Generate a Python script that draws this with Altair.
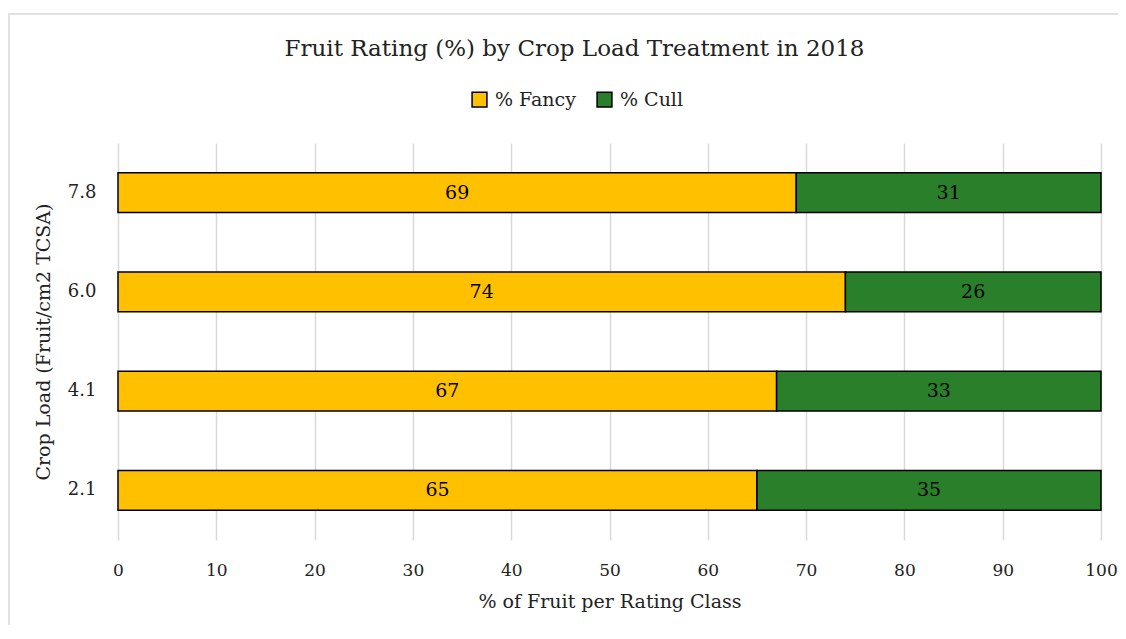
import altair as alt
import pandas as pd

loads = ["2.1", "4.1", "6.0", "7.8"]
fancy = [65, 67, 74, 69]
cull = [35, 33, 26, 31]
series = ["% Fancy", "% Cull"]
colors = ["#FFC000", "#2A7F2A"]

rows = []
for i, l in enumerate(loads):
    rows.append({"load": l, "rating": series[0], "value": fancy[i], "order": 0})
    rows.append({"load": l, "rating": series[1], "value": cull[i], "order": 1})
df = pd.DataFrame(rows)

FONT = "DejaVu Serif"
yorder = ["7.8", "6.0", "4.1", "2.1"]

base = alt.Chart(df)

bars = base.mark_bar(stroke="black", strokeWidth=1.5).encode(
    y=alt.Y("load:N", sort=yorder, title="Crop Load (Fruit/cm2 TCSA)",
            scale=alt.Scale(paddingInner=0.6, paddingOuter=0.3),
            axis=alt.Axis(labelPadding=22, titlePadding=14, domain=False, ticks=False,
                          grid=False, labelFontSize=18, titleFontSize=19)),
    x=alt.X("value:Q", stack="zero", title="% of Fruit per Rating Class",
            scale=alt.Scale(domain=[0, 100]),
            axis=alt.Axis(values=list(range(0, 101, 10)), domain=False, ticks=False,
                          grid=True, gridColor="#D9D9D9", gridWidth=1.5,
                          labelPadding=22, titlePadding=14, labelFlush=False,
                          labelFontSize=17, titleFontSize=19)),
    color=alt.Color("rating:N", sort=series,
                    scale=alt.Scale(domain=series, range=colors),
                    legend=alt.Legend(title=None, orient="none", direction="horizontal",
                                      legendX=352, legendY=-53,
                                      symbolType="square", symbolSize=220,
                                      symbolStrokeColor="black", symbolStrokeWidth=1.5,
                                      labelFontSize=19, columnPadding=18,
                                      labelOffset=6)),
    order=alt.Order("order:Q"),
)

text = base.transform_stack(
    stack="value", groupby=["load"], as_=["v0", "v1"], sort=[alt.SortField("order")]
).transform_calculate(mid="(datum.v0 + datum.v1) / 2").mark_text(
    fontSize=19, color="black", font=FONT
).encode(
    y=alt.Y("load:N", sort=yorder),
    x=alt.X("mid:Q"),
    text=alt.Text("value:Q"),
)

border = alt.Chart(alt.Data(values=[{"a": 1}])).mark_rect(
    fill=None, stroke="#D9D9D9", strokeWidth=1.5
).encode(
    x=alt.value(-109), x2=alt.value(1100), y=alt.value(-129), y2=alt.value(600)
)

chart = alt.layer(border, bars, text).properties(
    width=983, height=397,
    autosize=alt.AutoSizeParams(type="none"),
    padding={"left": 110, "top": 135, "right": 17, "bottom": 85},
    title=alt.TitleParams("Fruit Rating (%) by Crop Load Treatment in 2018",
                          fontSize=23, font=FONT, fontWeight="normal",
                          anchor="middle", frame="group", dx=-35, offset=-48,
                          color="#222"),
).configure(font=FONT).configure_view(stroke=None).configure_axis(
    labelFont=FONT, titleFont=FONT, labelColor="#222", titleColor="#222",
    titleFontWeight="normal"
).configure_legend(labelFont=FONT, labelColor="#222")

chart.save("out.html", embed_options={"renderer": "svg", "actions": False})
